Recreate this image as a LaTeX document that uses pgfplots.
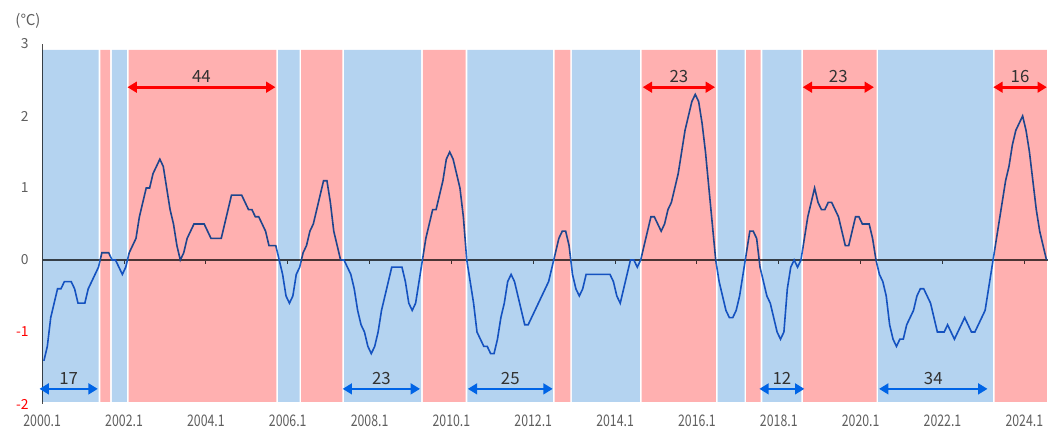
\documentclass[border=0pt]{standalone}
\usepackage{fontspec}
\setmainfont{Noto Sans CJK JP}
\newfontfamily\narrowfont{Noto Sans CJK JP}[FakeStretch=0.77]
\usepackage{pgfplots}
\pgfplotsset{compat=1.18}
\usetikzlibrary{arrows.meta}
\definecolor{bandred}{RGB}{255,176,176}
\definecolor{bandblue}{RGB}{180,211,240}
\definecolor{oni}{RGB}{30,100,205}
\definecolor{txtgray}{RGB}{95,95,95}
\definecolor{numgray}{RGB}{50,50,50}
\definecolor{arrblue}{RGB}{0,100,230}
\definecolor{arrred}{RGB}{255,0,0}
\newcommand{\band}[3]{\addplot[fill=#1, draw=none, blend mode=multiply] coordinates {({#2+0.25},-1.97) ({#2+0.25},2.92) ({#3-0.25},2.92) ({#3-0.25},-1.97) ({#2+0.25},-1.97)};}
\newcommand{\arr}[5]{%
  \draw[#1, line width=2pt, {Triangle[length=7pt,width=8pt]}-{Triangle[length=7pt,width=8pt]}] (axis cs:#2,#4) -- (axis cs:#3,#4);
  \node[anchor=base, inner sep=0pt, text=numgray, font=\fontsize{12.6}{13}\selectfont, yshift=3.2pt] at (axis cs:{(#2+#3)/2},#4) {#5};}
\begin{document}
\begin{tikzpicture}
\path[use as bounding box] (0,0) rectangle (795.75pt,321pt);
\begin{axis}[
  at={(31.65pt,18pt)}, anchor=south west,
  scale only axis, width=754.5pt, height=270pt,
  xmin=-0.5, xmax=294.5, ymin=-2, ymax=3,
  clip=false,
  axis y line*=left,
  axis x line*=middle,
  hide obscured x ticks=false,
  x axis line style={draw=black!70, line width=0.9pt},
  y axis line style={draw=black!70, line width=0.8pt},
  xtick={-0.5,23.5,47.5,71.5,95.5,119.5,143.5,167.5,191.5,215.5,239.5,263.5,287.5},
  xticklabels={2000.1,2002.1,2004.1,2006.1,2008.1,2010.1,2012.1,2014.1,2016.1,2018.1,2020.1,2022.1,2024.1},
  ytick={-2,-1,0,1,2,3},
  yticklabels={\textcolor{red}{-2},\textcolor{red}{-1},0,1,2,3},
  tick align=outside,
  major tick length=3pt,
  x tick style={draw=black!75, line width=0.8pt},
  y tick style={draw=none},
  xticklabel style={font=\narrowfont\fontsize{12}{12}\selectfont, text=txtgray, inner sep=0pt, anchor=north, yshift=-113pt},
  yticklabel style={font=\fontsize{10.4}{10}\selectfont, text=txtgray, inner sep=0pt, anchor=east, xshift=-7pt},
]
\addplot[oni, line width=1.2pt] coordinates {
(0,-1.4)(1,-1.2)(2,-0.8)(3,-0.6)(4,-0.4)(5,-0.4)(6,-0.3)(7,-0.3)(8,-0.3)(9,-0.4)(10,-0.6)(11,-0.6)
(12,-0.6)(13,-0.4)(14,-0.3)(15,-0.2)(16,-0.1)(17,0.1)(18,0.1)(19,0.1)(20,0.0)(21,0.0)(22,-0.1)(23,-0.2)
(24,-0.1)(25,0.1)(26,0.2)(27,0.3)(28,0.6)(29,0.8)(30,1.0)(31,1.0)(32,1.2)(33,1.3)(34,1.4)(35,1.3)
(36,1.0)(37,0.7)(38,0.5)(39,0.2)(40,0.0)(41,0.1)(42,0.3)(43,0.4)(44,0.5)(45,0.5)(46,0.5)(47,0.5)
(48,0.4)(49,0.3)(50,0.3)(51,0.3)(52,0.3)(53,0.5)(54,0.7)(55,0.9)(56,0.9)(57,0.9)(58,0.9)(59,0.8)
(60,0.7)(61,0.7)(62,0.6)(63,0.6)(64,0.5)(65,0.4)(66,0.2)(67,0.2)(68,0.2)(69,0.0)(70,-0.2)(71,-0.5)
(72,-0.6)(73,-0.5)(74,-0.2)(75,-0.1)(76,0.1)(77,0.2)(78,0.4)(79,0.5)(80,0.7)(81,0.9)(82,1.1)(83,1.1)
(84,0.8)(85,0.4)(86,0.2)(87,0.0)(88,0.0)(89,-0.1)(90,-0.2)(91,-0.4)(92,-0.7)(93,-0.9)(94,-1.0)(95,-1.2)
(96,-1.3)(97,-1.2)(98,-1.0)(99,-0.7)(100,-0.5)(101,-0.3)(102,-0.1)(103,-0.1)(104,-0.1)(105,-0.1)(106,-0.3)(107,-0.6)
(108,-0.7)(109,-0.6)(110,-0.3)(111,0.0)(112,0.3)(113,0.5)(114,0.7)(115,0.7)(116,0.9)(117,1.1)(118,1.4)(119,1.5)
(120,1.4)(121,1.2)(122,1.0)(123,0.6)(124,0.0)(125,-0.3)(126,-0.6)(127,-1.0)(128,-1.1)(129,-1.2)(130,-1.2)(131,-1.3)
(132,-1.3)(133,-1.1)(134,-0.8)(135,-0.6)(136,-0.3)(137,-0.2)(138,-0.3)(139,-0.5)(140,-0.7)(141,-0.9)(142,-0.9)(143,-0.8)
(144,-0.7)(145,-0.6)(146,-0.5)(147,-0.4)(148,-0.3)(149,-0.1)(150,0.1)(151,0.3)(152,0.4)(153,0.4)(154,0.2)(155,-0.2)
(156,-0.4)(157,-0.5)(158,-0.4)(159,-0.2)(160,-0.2)(161,-0.2)(162,-0.2)(163,-0.2)(164,-0.2)(165,-0.2)(166,-0.2)(167,-0.3)
(168,-0.5)(169,-0.6)(170,-0.4)(171,-0.2)(172,0.0)(173,0.0)(174,-0.1)(175,0.0)(176,0.2)(177,0.4)(178,0.6)(179,0.6)
(180,0.5)(181,0.4)(182,0.5)(183,0.7)(184,0.8)(185,1.0)(186,1.2)(187,1.5)(188,1.8)(189,2.0)(190,2.2)(191,2.3)
(192,2.2)(193,1.9)(194,1.5)(195,1.0)(196,0.5)(197,0.0)(198,-0.3)(199,-0.5)(200,-0.7)(201,-0.8)(202,-0.8)(203,-0.7)
(204,-0.5)(205,-0.2)(206,0.1)(207,0.4)(208,0.4)(209,0.3)(210,-0.1)(211,-0.3)(212,-0.5)(213,-0.6)(214,-0.8)(215,-1.0)
(216,-1.1)(217,-1.0)(218,-0.4)(219,-0.1)(220,0.0)(221,-0.1)(222,0.0)(223,0.3)(224,0.6)(225,0.8)(226,1.0)(227,0.8)
(228,0.7)(229,0.7)(230,0.8)(231,0.8)(232,0.7)(233,0.6)(234,0.4)(235,0.2)(236,0.2)(237,0.4)(238,0.6)(239,0.6)
(240,0.5)(241,0.5)(242,0.5)(243,0.3)(244,0.0)(245,-0.2)(246,-0.3)(247,-0.5)(248,-0.9)(249,-1.1)(250,-1.2)(251,-1.1)
(252,-1.1)(253,-0.9)(254,-0.8)(255,-0.7)(256,-0.5)(257,-0.4)(258,-0.4)(259,-0.5)(260,-0.6)(261,-0.8)(262,-1.0)(263,-1.0)
(264,-1.0)(265,-0.9)(266,-1.0)(267,-1.1)(268,-1.0)(269,-0.9)(270,-0.8)(271,-0.9)(272,-1.0)(273,-1.0)(274,-0.9)(275,-0.8)
(276,-0.7)(277,-0.4)(278,-0.1)(279,0.2)(280,0.5)(281,0.8)(282,1.1)(283,1.3)(284,1.6)(285,1.8)(286,1.9)(287,2.0)
(288,1.8)(289,1.5)(290,1.1)(291,0.7)(292,0.4)(293,0.2)(294,0.0)
};
\band{bandblue}{-0.75}{16.3}
\band{bandred}{16.3}{19.7}
\band{bandblue}{19.7}{24.6}
\band{bandred}{24.6}{68.4}
\band{bandblue}{68.4}{75.2}
\band{bandred}{75.2}{87.8}
\band{bandblue}{87.8}{110.9}
\band{bandred}{110.9}{123.9}
\band{bandblue}{123.9}{149.5}
\band{bandred}{149.5}{154.6}
\band{bandblue}{154.6}{175.0}
\band{bandred}{175.0}{197.3}
\band{bandblue}{197.3}{205.7}
\band{bandred}{205.7}{210.4}
\band{bandblue}{210.4}{222.4}
\band{bandred}{222.4}{244.4}
\band{bandblue}{244.4}{278.5}
\band{bandred}{278.5}{294.35}
\arr{arrblue}{-1.3}{15.8}{-1.79}{17}
\arr{arrred}{24.5}{67.9}{2.40}{44}
\arr{arrblue}{87.6}{110.3}{-1.79}{23}
\arr{arrblue}{124.3}{149.2}{-1.79}{25}
\arr{arrred}{175.6}{196.8}{2.40}{23}
\arr{arrblue}{209.8}{223.0}{-1.79}{12}
\arr{arrred}{222.5}{243.4}{2.40}{23}
\arr{arrblue}{244.9}{276.7}{-1.79}{34}
\arr{arrred}{278.4}{294.1}{2.40}{16}
\end{axis}
\node[text=txtgray, font=\fontsize{11.2}{12}\selectfont, inner sep=0pt] at (21pt,305pt) {(℃)};
\end{tikzpicture}
\end{document}
